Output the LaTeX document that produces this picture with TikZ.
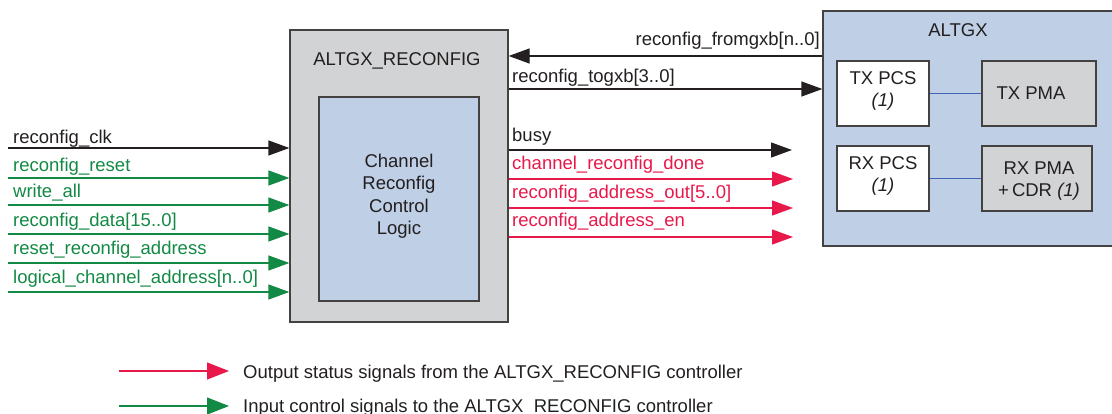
\documentclass[tikz,border=0pt]{standalone}
\usepackage{fontspec}
\setmainfont{Liberation Sans}
\usetikzlibrary{arrows.meta}
\definecolor{boxgray}{RGB}{209,211,212}
\definecolor{boxblue}{RGB}{190,207,230}
\definecolor{sgreen}{RGB}{18,137,68}
\definecolor{sred}{RGB}{232,24,75}
\definecolor{ink}{RGB}{35,31,32}
\definecolor{linkblue}{RGB}{70,100,180}
\begin{document}
\begin{tikzpicture}[x=1pt,y=-1pt,
  font=\fontsize{18.5}{22.5}\selectfont,
  blk/.style={draw=ink!85, line width=1.3pt, inner sep=0pt},
  sig/.style={line width=1.3pt, -{Triangle[length=21pt,width=15pt]}},
  lsig/.style={line width=1.1pt, -{Triangle[length=22pt,width=17pt]}},
  lbl/.style={anchor=base west, inner sep=0pt, text=ink},
  rlbl/.style={anchor=base east, inner sep=0pt, text=ink},
  txt/.style={inner sep=0pt, text=ink, align=center},
  link/.style={draw=linkblue, line width=1pt}]
\useasboundingbox (0,0) rectangle (1112,414);

% ALTGX_RECONFIG block
\node[blk, fill=boxgray, minimum width=218pt, minimum height=292pt] (rc) at (399,176) {};
\node[blk, fill=boxblue, minimum width=160pt, minimum height=204pt] (logic) at (399,199) {};
\node[txt] (rctitle) at (397,61) {ALTGX\_RECONFIG};
\node[txt] (logictext) at (399,196) {Channel\\Reconfig\\Control\\Logic};

% ALTGX block
\node[blk, fill=boxblue, minimum width=296pt, minimum height=235pt] (altgx) at (971,128.5) {};
\node[txt] (altgxtitle) at (958,30) {ALTGX};
\node[blk, fill=white, minimum width=92pt, minimum height=65pt] (txpcs) at (883,93.5) {};
\node[txt] (txpcst) at (883,91) {TX PCS\\\textit{(1)}};
\node[blk, fill=boxgray, minimum width=114pt, minimum height=65pt] (txpma) at (1039,93.5) {};
\node[txt] (txpmat) at (1031,93) {TX PMA};
\node[blk, fill=white, minimum width=92pt, minimum height=65pt] (rxpcs) at (883,178.5) {};
\node[txt] (rxpcst) at (883,176) {RX PCS\\\textit{(1)}};
\node[blk, fill=boxgray, minimum width=110pt, minimum height=65pt] (rxpma) at (1037,178.5) {};
\node[txt] (rxpmat) at (1039,181) {RX PMA\\+\,CDR \textit{(1)}};
\draw[link] (txpcs.east) -- (txpma.west);
\draw[link] (rxpcs.east) -- (rxpma.west);

% inputs
\coordinate (i1) at (8,148);
\coordinate (i2) at (8,178);
\coordinate (i3) at (8,205);
\coordinate (i4) at (8,234);
\coordinate (i5) at (8,263);
\coordinate (i6) at (8,292);
\draw[sig, ink] (i1) -- (i1 -| rc.west);
\draw[sig, sgreen] (i2) -- (i2 -| rc.west);
\draw[sig, sgreen] (i3) -- (i3 -| rc.west);
\draw[sig, sgreen] (i4) -- (i4 -| rc.west);
\draw[sig, sgreen] (i5) -- (i5 -| rc.west);
\draw[sig, sgreen] (i6) -- (i6 -| rc.west);
\node[lbl] (l1) at (13,144) {reconfig\_clk};
\node[lbl, text=sgreen] (l2) at (13,172) {reconfig\_reset};
\node[lbl, text=sgreen] (l3) at (13,198) {write\_all};
\node[lbl, text=sgreen] (l4) at (13,227) {reconfig\_data[15..0]};
\node[lbl, text=sgreen] (l5) at (13,255) {reset\_reconfig\_address};
\node[lbl, text=sgreen] (l6) at (13,284) {logical\_channel\_address[n..0]};

% transceiver links
\coordinate (f) at (0,56);
\coordinate (t) at (0,89);
\draw[sig, ink] (altgx.west |- f) -- (rc.east |- f);
\draw[sig, ink] (rc.east |- t) -- (altgx.west |- t);
\node[rlbl] (lf) at (820,46) {reconfig\_fromgxb[n..0]};
\node[lbl] (lt) at (512,83) {reconfig\_togxb[3..0]};

% outputs
\coordinate (o1) at (792,150);
\coordinate (o2) at (793,179);
\coordinate (o3) at (793,208);
\coordinate (o4) at (793,237);
\draw[sig, ink] (rc.east |- o1) -- (o1);
\draw[sig, sred] (rc.east |- o2) -- (o2);
\draw[sig, sred] (rc.east |- o3) -- (o3);
\draw[sig, sred] (rc.east |- o4) -- (o4);
\node[lbl] (lo1) at (512,142) {busy};
\node[lbl, text=sred] (lo2) at (512,170) {channel\_reconfig\_done};
\node[lbl, text=sred] (lo3) at (512,199) {reconfig\_address\_out[5..0]};
\node[lbl, text=sred] (lo4) at (512,227) {reconfig\_address\_en};

% legend
\coordinate (gr1) at (119,371);
\coordinate (gr2) at (229,371);
\coordinate (gg1) at (119,406);
\coordinate (gg2) at (229,406);
\draw[lsig, sred] (gr1) -- (gr2);
\draw[lsig, sgreen] (gg1) -- (gg2);
\node[lbl] (legr) at (243,378) {Output status signals from the ALTGX\_RECONFIG controller};
\node[lbl] (legg) at (243,412) {Input control signals to the ALTGX\_RECONFIG controller};
\end{tikzpicture}
\end{document}
